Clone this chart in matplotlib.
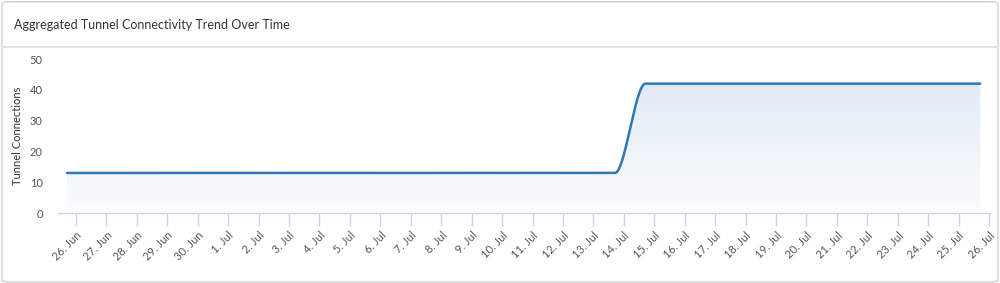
import numpy as np
import pandas as pd
import matplotlib
matplotlib.use("Agg")
import matplotlib.pyplot as plt
import matplotlib.dates as mdates
from matplotlib.patches import FancyBboxPatch
from matplotlib.colors import LinearSegmentedColormap

plt.rcParams["font.family"] = ["Lato", "DejaVu Sans"]

title = "Aggregated Tunnel Connectivity Trend Over Time"
y_label = "Tunnel Connections"
dates = pd.date_range("2024-06-25 17:00", periods=31, freq="D")
connections = [13] * 19 + [42] * 12
y_ticks = [0, 10, 20, 30, 40, 50]
tick_dates = pd.date_range("2024-06-26", "2024-07-26", freq="D")


def pchip(x, y, xs):
    # monotone cubic, like the spline look of the original
    x = np.asarray(x, float)
    y = np.asarray(y, float)
    h = np.diff(x)
    d = np.diff(y) / h
    m = np.zeros_like(y)
    for i in range(1, len(y) - 1):
        if d[i - 1] * d[i] > 0:
            w1 = 2 * h[i] + h[i - 1]
            w2 = h[i] + 2 * h[i - 1]
            m[i] = (w1 + w2) / (w1 / d[i - 1] + w2 / d[i])
    m[0] = d[0]
    m[-1] = d[-1]
    idx = np.clip(np.searchsorted(x, xs) - 1, 0, len(h) - 1)
    t = (xs - x[idx]) / h[idx]
    h00 = 2 * t**3 - 3 * t**2 + 1
    h10 = t**3 - 2 * t**2 + t
    h01 = -2 * t**3 + 3 * t**2
    h11 = t**3 - t**2
    return (h00 * y[idx] + h10 * h[idx] * m[idx]
            + h01 * y[idx + 1] + h11 * h[idx] * m[idx + 1])


xnum = mdates.date2num(dates)
xs = np.linspace(xnum[0], xnum[-1], 3000)
ys = pchip(xnum, connections, xs)

fig = plt.figure(figsize=(10, 2.83), dpi=100)

# card background
card = FancyBboxPatch((0.002, 0.004), 0.996, 0.99,
                      boxstyle="round,pad=0,rounding_size=0.008",
                      transform=fig.transFigure, facecolor="white",
                      edgecolor="#d0d0d0", linewidth=1, zorder=-10)
fig.patches.append(card)
fig.add_artist(plt.Line2D([0.002, 0.998], [1 - 47 / 283, 1 - 47 / 283],
                          transform=fig.transFigure, color="#e3e3e3", lw=1.5,
                          zorder=-5))
fig.text(0.014, 1 - 25 / 283, title, fontsize=9, color="#333333",
         va="center", ha="left")

ax = fig.add_axes([0.058, 1 - 213 / 283, 0.932, (213 - 59) / 283])
ax.set_facecolor("none")
ax.set_zorder(2)

x0 = mdates.date2num(pd.Timestamp("2024-06-26"))

poly = ax.fill_between(xs, 0, ys, facecolor="none", edgecolor="none")
cmap = LinearSegmentedColormap.from_list("g", ["#fafcfe", "#dde8f4"])
grad = np.linspace(0, 1, 256).reshape(-1, 1)
im = ax.imshow(grad, cmap=cmap, aspect="auto", origin="lower",
               extent=[xnum[0], xnum[-1], 0, 50], zorder=1)
im.set_clip_path(poly.get_paths()[0], transform=ax.transData)
ax.plot(xs, ys, color="#2e78b5", lw=1.8, zorder=3,
        solid_capstyle="round")
ax.set_xlim(x0 - 0.59, x0 + 30.03)
ax.set_ylim(0, 50)

for s in ["top", "right", "left"]:
    ax.spines[s].set_visible(False)
ax.spines["bottom"].set_color("#ccd6eb")
ax.spines["bottom"].set_linewidth(1)

ax.set_xticks(mdates.date2num(tick_dates))
ax.set_xticklabels([f"{d.day}. {d.strftime('%b')}" for d in tick_dates],
                   rotation=45, ha="right", rotation_mode="anchor")
ax.tick_params(axis="x", length=9, width=1, color="#ccd6eb",
               labelsize=8, labelcolor="#555555", pad=3)
ax.set_yticks(y_ticks)
ax.tick_params(axis="y", length=0, labelsize=8, labelcolor="#555555", pad=11)
ax.set_ylabel(y_label, fontsize=8, color="#333333", labelpad=5)

fig.savefig("out.png", dpi=100)
